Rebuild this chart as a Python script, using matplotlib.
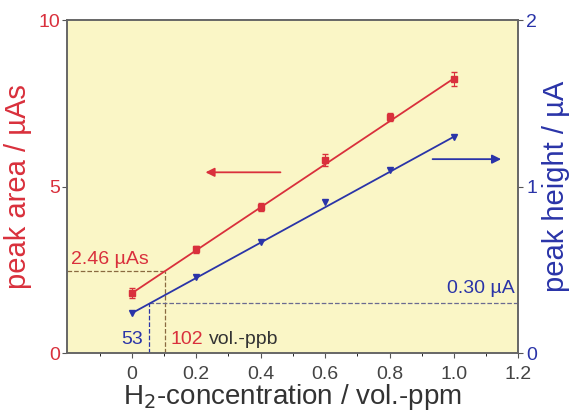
import numpy as np
import matplotlib.pyplot as plt

plt.rcParams['font.family'] = ['Liberation Sans', 'DejaVu Sans']

# H2 calibration data
conc = [0.0, 0.2, 0.4, 0.6, 0.8, 1.0]
area = [1.80, 3.12, 4.38, 5.80, 7.08, 8.23]
area_err = [0.15, 0.10, 0.12, 0.18, 0.12, 0.20]
height = [0.24, 0.456, 0.67, 0.906, 1.10, 1.30]

# linear fit coefficients (slope, intercept)
area_fit = [6.45, 1.80]
height_fit = [1.06, 0.24]

# detection limits
lod_area = 2.46
lod_height = 0.30
lod_x_area = 0.102
lod_x_height = 0.053

red = '#d9303c'
blue = '#2a34a8'
bg = '#faf6c6'

fig, ax = plt.subplots(figsize=(5.76, 4.18), dpi=100)
fig.subplots_adjust(left=0.117, right=0.9, top=0.952, bottom=0.155)
ax.set_facecolor(bg)
ax2 = ax.twinx()

xf = np.array([0.0, 1.0])
ax.plot(xf, np.polyval(area_fit, xf), color=red, lw=1.3, zorder=3)
ax.errorbar(conc, area, yerr=area_err, fmt='s', color=red, ms=4,
            capsize=2, elinewidth=0.8, zorder=4)
ax2.plot(xf, np.polyval(height_fit, xf), color=blue, lw=1.3, zorder=3)
ax2.plot(conc, height, 'v', color=blue, ms=4, zorder=4)

# detection limit guides
ax.plot([-0.2, lod_x_area], [lod_area, lod_area], ls='--', color='#8a6a40', lw=0.9)
ax.plot([lod_x_area, lod_x_area], [0, lod_area], ls='--', color='#8a6a40', lw=0.9)
ax2.plot([lod_x_height, 1.2], [lod_height, lod_height], ls='--', color='#6a6a90', lw=0.9)
ax2.plot([lod_x_height, lod_x_height], [0, lod_height], ls='--', color=blue, lw=0.9)

ax.text(-0.188, 2.82, '2.46 µAs', color=red, fontsize=14, va='center')
ax2.text(1.19, 0.39, '0.30 µA', color=blue, fontsize=14, ha='right', va='center')
ax.text(0.035, 0.4, '53', color=blue, fontsize=14, ha='right', va='center')
ax.text(0.12, 0.4, '102', color=red, fontsize=14, va='center')
ax.text(0.24, 0.4, 'vol.-ppb', color='#333333', fontsize=14, va='center')

# arrows pointing to the matching axis
ax.annotate('', xy=(0.22, 5.43), xytext=(0.47, 5.43),
            arrowprops=dict(arrowstyle='-|>', color=red, lw=1.3, mutation_scale=13))
ax2.annotate('', xy=(1.155, 1.165), xytext=(0.925, 1.165),
             arrowprops=dict(arrowstyle='-|>', color=blue, lw=1.3, mutation_scale=13))

ax.set_xlim(-0.2, 1.2)
ax.set_ylim(0, 10)
ax2.set_ylim(0, 2)
ax.set_xticks([0, 0.2, 0.4, 0.6, 0.8, 1.0, 1.2])
ax.set_xticklabels(['0', '0.2', '0.4', '0.6', '0.8', '1.0', '1.2'])
ax.set_xticks(np.arange(-0.1, 1.2, 0.2), minor=True)
ax.set_yticks([0, 5, 10])
ax2.set_yticks([0, 1, 2])

ax.tick_params(axis='x', labelsize=14, colors='#555555', labelcolor='#444444', pad=6)
ax.tick_params(axis='y', labelsize=14, labelcolor=red, colors='#555555', pad=2)
ax2.tick_params(axis='y', labelsize=14, labelcolor=blue, colors='#555555', pad=2)
for a in (ax, ax2):
    for s in a.spines.values():
        s.set_color('#666666')
        s.set_linewidth(1.2)

ax.set_xlabel('H$_2$-concentration / vol.-ppm', fontsize=20, color='#333333', labelpad=-1)
ax.set_ylabel('peak area / µAs', fontsize=21, color=red, labelpad=4)
ax2.set_ylabel('peak height / µA', fontsize=21, color=blue, labelpad=4)

fig.savefig('out.png', dpi=100)
